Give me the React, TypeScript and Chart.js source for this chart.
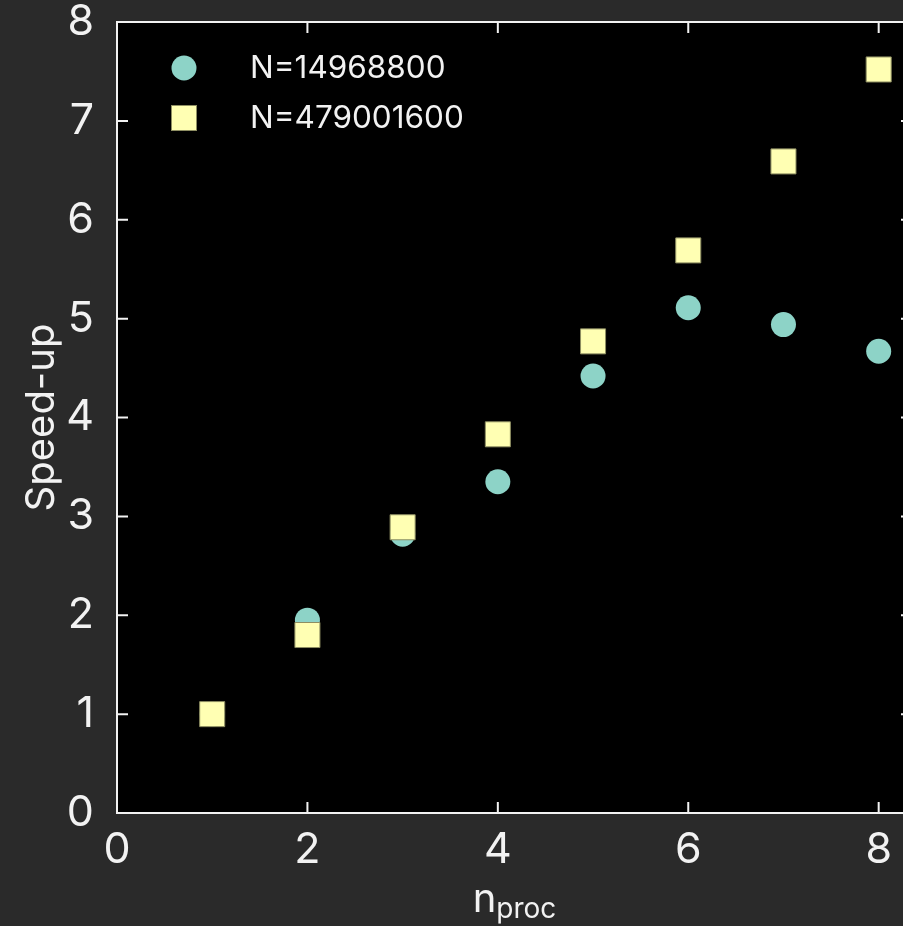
import React, { useEffect, useRef } from "react";
import { Chart, registerables } from "chart.js";

Chart.register(...registerables);

const nProc = [1, 2, 3, 4, 5, 6, 7, 8];
const speedupSmall = [1.0, 1.95, 2.82, 3.35, 4.42, 5.11, 4.94, 4.67];
const speedupLarge = [1.0, 1.8, 2.89, 3.83, 4.77, 5.69, 6.59, 7.52];
const seriesLabels = ["N=14968800", "N=479001600"];
const xTicks = [0, 2, 4, 6, 8];
const yTicks = [0, 1, 2, 3, 4, 5, 6, 7, 8];
const xTitleMain = "n";
const xTitleSub = "proc";
const yTitle = "Speed-up";

const BG = "#2a2a2a";
const FG = "#f2f2f2";
const C1 = "#8dd3c7";
const C2 = "#ffffb3";
const FONT = "Inter, 'Open Sans', sans-serif";

const framePlugin = {
  id: "frame",
  beforeDraw(chart: any) {
    const { ctx, chartArea: a, width, height } = chart;
    ctx.save();
    ctx.fillStyle = BG;
    ctx.fillRect(0, 0, width, height);
    ctx.fillStyle = "#000000";
    ctx.fillRect(a.left, a.top, a.right - a.left, a.bottom - a.top);
    ctx.restore();
  },
  afterDraw(chart: any) {
    const { ctx, chartArea: a, scales } = chart;
    const xs = scales.x;
    const ys = scales.y;
    ctx.save();
    ctx.strokeStyle = FG;
    ctx.lineWidth = 2;
    const tl = 11;
    ctx.beginPath();
    xTicks.forEach((v) => {
      const px = xs.getPixelForValue(v);
      ctx.moveTo(px, a.bottom);
      ctx.lineTo(px, a.bottom - tl);
      ctx.moveTo(px, a.top);
      ctx.lineTo(px, a.top + tl);
    });
    yTicks.forEach((v) => {
      const py = ys.getPixelForValue(v);
      ctx.moveTo(a.left, py);
      ctx.lineTo(a.left + tl, py);
      ctx.moveTo(a.right, py);
      ctx.lineTo(a.right - tl, py);
    });
    ctx.stroke();
    ctx.strokeRect(a.left, a.top, a.right - a.left, a.bottom - a.top);

    // legend
    const lx = a.left + 67;
    const ly1 = a.top + 46;
    const ly2 = a.top + 96;
    ctx.fillStyle = C1;
    ctx.beginPath();
    ctx.arc(lx, ly1, 12.5, 0, Math.PI * 2);
    ctx.fill();
    ctx.fillStyle = C2;
    ctx.fillRect(lx - 12.5, ly2 - 12.5, 25, 25);
    ctx.strokeStyle = "#8e8e62";
    ctx.lineWidth = 1;
    ctx.strokeRect(lx - 12.5, ly2 - 12.5, 25, 25);
    ctx.fillStyle = FG;
    ctx.font = `31.5px ${FONT}`;
    ctx.textAlign = "left";
    ctx.textBaseline = "middle";
    ctx.fillText(seriesLabels[0], a.left + 133, ly1 + 1);
    ctx.fillText(seriesLabels[1], a.left + 133, ly2 + 1);

    // y title
    ctx.save();
    ctx.translate(54, (a.top + a.bottom) / 2);
    ctx.rotate(-Math.PI / 2);
    ctx.font = `40px ${FONT}`;
    ctx.textAlign = "center";
    ctx.textBaseline = "alphabetic";
    ctx.fillText(yTitle, 0, 0);
    ctx.restore();

    // x title with subscript
    ctx.font = `40px ${FONT}`;
    const w1 = ctx.measureText(xTitleMain).width;
    ctx.font = `28px ${FONT}`;
    const w2 = ctx.measureText(xTitleSub).width;
    const cx = (a.left + a.right) / 2;
    const x0 = cx - (w1 + w2) / 2;
    ctx.textAlign = "left";
    ctx.textBaseline = "alphabetic";
    ctx.font = `40px ${FONT}`;
    ctx.fillText(xTitleMain, x0, 912);
    ctx.font = `28px ${FONT}`;
    ctx.fillText(xTitleSub, x0 + w1, 918);
    ctx.restore();
  },
};

export default function App() {
  const ref = useRef<HTMLCanvasElement | null>(null);
  useEffect(() => {
    if (!ref.current) return;
    const chart = new Chart(ref.current, {
      type: "scatter",
      data: {
        datasets: [
          {
            label: seriesLabels[0],
            data: nProc.map((x, i) => ({ x, y: speedupSmall[i] })),
            backgroundColor: C1,
            borderColor: C1,
            borderWidth: 0,
            pointStyle: "circle",
            pointRadius: 12.5,
            pointHoverRadius: 12.5,
            order: 1,
          },
          {
            label: seriesLabels[1],
            data: nProc.map((x, i) => ({ x, y: speedupLarge[i] })),
            backgroundColor: C2,
            borderColor: "#8e8e62",
            borderWidth: 1,
            pointStyle: "rect",
            pointRadius: 17.7,
            pointHoverRadius: 17.7,
            order: 0,
          },
        ],
      },
      options: {
        animation: false,
        responsive: true,
        maintainAspectRatio: false,
        devicePixelRatio: 1,
        events: [],
        layout: { autoPadding: false, padding: { left: 0, top: 22, right: 3, bottom: 0 } },
        plugins: {
          legend: { display: false },
          tooltip: { enabled: false },
        },
        scales: {
          x: {
            type: "linear",
            min: 0,
            max: 8.35,
            grid: { display: false },
            border: { display: false },
            afterBuildTicks: (s: any) => {
              s.ticks = xTicks.map((v) => ({ value: v }));
            },
            afterFit: (s: any) => {
              s.height = 113;
              s.paddingLeft = 0;
              s.paddingRight = 0;
              s.paddingTop = 0;
              s.paddingBottom = 0;
            },
            ticks: {
              color: FG,
              font: { family: FONT, size: 43 },
              padding: 3,
              maxRotation: 0,
            },
          },
          y: {
            type: "linear",
            min: 0,
            max: 8,
            grid: { display: false },
            border: { display: false },
            afterBuildTicks: (s: any) => {
              s.ticks = yTicks.map((v) => ({ value: v }));
            },
            afterFit: (s: any) => {
              s.width = 117;
              s.paddingLeft = 0;
              s.paddingRight = 0;
              s.paddingTop = 0;
              s.paddingBottom = 0;
            },
            ticks: {
              color: FG,
              font: { family: FONT, size: 43 },
              padding: 15,
            },
          },
        },
      },
      plugins: [framePlugin],
    });
    return () => chart.destroy();
  }, []);
  return (
    <div
      style={{
        position: "fixed",
        left: 0,
        top: 0,
        width: 903,
        height: 926,
        overflow: "hidden",
        background: BG,
      }}
    >
      <div style={{ position: "relative", width: 915, height: 926 }}>
        <canvas ref={ref} style={{ display: "block" }} />
      </div>
    </div>
  );
}
